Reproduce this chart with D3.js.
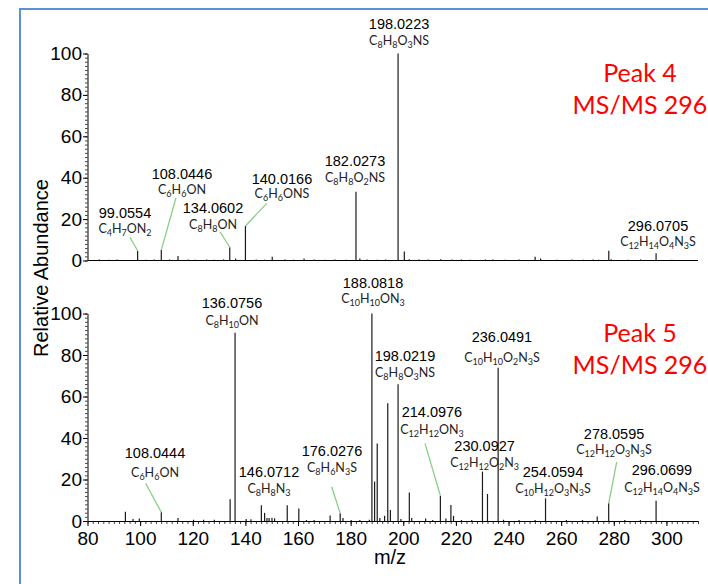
<!DOCTYPE html>
<html><head><meta charset="utf-8">
<script src="https://cdn.jsdelivr.net/npm/d3@7"></script>
<style>body{margin:0;background:#fff}svg{display:block}</style></head>
<body><svg id="c" width="708" height="584"></svg>
<script>
// ---------- DATA ----------
const xTickValues = [80, 100, 120, 140, 160, 180, 200, 220, 240, 260, 280, 300];
const yTickValues = [0, 20, 40, 60, 80, 100];
const xTitle = "m/z";
const yTitle = "Relative Abundance";

// Peak 4 spectrum (m/z, relative abundance)
const peak4Mz = [84.5, 88.1, 91.3, 99.0554, 102.2, 105.4, 108.0446, 111.2, 114.4, 118.3, 121.0, 125.3, 128.1, 131.7, 134.0602, 136.3, 140.0166, 144.1, 147.3, 150.2, 155.0, 158.3, 162.3, 166.1, 170.2, 174.0, 178.3, 182.0273, 183.5, 186.2, 190.1, 193.3, 198.0223, 200.4, 202.3, 206.0, 209.5, 214.2, 218.5, 222.1, 225.4, 231.2, 234.0, 238.6, 244.0, 250.1, 252.2, 258.3, 264.1, 268.4, 272.1, 274.2, 278.1, 279.0, 285.4, 290.2, 296.0705, 302.1];
const peak4Ab = [0.5, 0.4, 0.5, 4.7, 0.4, 0.5, 5.1, 0.5, 2.2, 0.5, 0.4, 0.5, 0.4, 0.5, 6.4, 1.0, 16.7, 0.5, 0.4, 1.8, 0.5, 0.4, 1.0, 0.5, 0.4, 0.5, 0.4, 33.2, 1.0, 0.5, 0.4, 0.5, 100, 4.3, 0.6, 0.5, 0.5, 0.6, 0.5, 0.5, 0.4, 0.5, 0.5, 0.4, 0.5, 1.8, 1.0, 0.4, 0.5, 0.4, 0.5, 0.4, 4.7, 0.6, 0.4, 0.5, 3.5, 0.4];

// Peak 5 spectrum
const peak5Mz = [94.4, 97.3, 99.7, 108.0444, 114.4, 120.3, 124.1, 128.2, 134.2, 136.0756, 140.3, 142.1, 146.0712, 147.3, 148.2, 149.0, 150.1, 151.1, 155.9, 160.3, 163.2, 166.1, 172.2, 176.0276, 177.1, 180.2, 183.5, 187.1, 188.0818, 189.1, 190.1, 191.1, 192.9, 194.1, 195.1, 198.0219, 199.1, 202.3, 203.2, 208.5, 211.2, 214.0976, 216.2, 218.1, 219.1, 222.1, 226.0, 230.0927, 232.0, 236.0491, 238.1, 244.0, 250.1, 254.0594, 262.0, 268.1, 273.7, 278.0595, 284.2, 290.1, 296.0699];
const peak5Ab = [4.5, 1.0, 1.2, 4.2, 1.5, 0.6, 0.6, 0.6, 10.5, 90.7, 1.0, 0.8, 7.6, 3.9, 1.5, 1.4, 1.6, 1.3, 7.6, 6.0, 0.5, 0.5, 2.6, 3.7, 1.5, 0.5, 0.5, 0.6, 100, 19, 37.4, 1.5, 2.5, 56.7, 5.3, 65.9, 1.0, 13.7, 1.5, 1.2, 0.5, 12.2, 1.2, 7.7, 2.5, 0.5, 0.5, 23.8, 13, 73.9, 0.6, 0.5, 0.5, 10.9, 0.5, 0.5, 2.2, 8.5, 0.5, 0.5, 9.8];

// Annotated ions
const peak4AnnotMz = [99.0554, 108.0446, 134.0602, 140.0166, 182.0273, 198.0223, 296.0705];
const peak4AnnotText = ["99.0554", "108.0446", "134.0602", "140.0166", "182.0273", "198.0223", "296.0705"];
const peak4AnnotFormula = ["C4H7ON2", "C6H6ON", "C8H8ON", "C6H6ONS", "C8H8O2NS", "C8H8O3NS", "C12H14O4N3S"];
const peak5AnnotMz = [108.0444, 136.0756, 146.0712, 176.0276, 188.0818, 198.0219, 214.0976, 230.0927, 236.0491, 254.0594, 278.0595, 296.0699];
const peak5AnnotText = ["108.0444", "136.0756", "146.0712", "176.0276", "188.0818", "198.0219", "214.0976", "230.0927", "236.0491", "254.0594", "278.0595", "296.0699"];
const peak5AnnotFormula = ["C6H6ON", "C8H10ON", "C8H8N3", "C8H6N3S", "C10H10ON3", "C8H8O3NS", "C12H12ON3", "C12H12O2N3", "C10H10O2N3S", "C10H12O3N3S", "C12H12O3N3S", "C12H14O4N3S"];

const panelTitles = [["Peak 4", "MS/MS 296"], ["Peak 5", "MS/MS 296"]];

// ---------- LAYOUT (label placement in data units: [m/z, mass-label abundance, formula abundance], leader start [m/z, abundance]) ----------
const peak4LabelPos = [[94.25, 20.6, 13.3], [115.9, 39.3, 32.3], [127.7, 22.8, 15.1], [153.9, 37.0, 30.0], [181.65, 45.6, 38.1], [198.4, 111.8, 104.1], [296.8, 14.4, 7.2]];
const peak4Leader = [[96.15, 11.2], [113.6, 30.2], [130.35, 13.9], [148.1, 27.6], null, null, null];
const peak5LabelPos = [[105.65, 30.2, 21.3], [134.9, 102.5, 94.5], [148.97, 21.3, 13.6], [172.9, 31.2, 23.8], [188.5, 112.3, 104.9], [200.65, 77.0, 69.5], [210.9, 50.3, 41.8], [230.9, 33.6, 26.2], [237.5, 86.4, 76.8], [256.9, 21.3, 13.3], [280.1, 39.4, 32.3], [298.3, 22.2, 14.1]];
const peak5Leader = [[102.1, 18.2], null, null, [172.8, 16.5], null, null, [208.25, 37.4], null, null, null, [281.1, 28.4], null];

// ---------- DRAW ----------
const svg = d3.select("#c");
svg.append("rect").attr("width", 708).attr("height", 584).attr("fill", "#fff");
svg.append("rect").attr("x", 20).attr("y", 9).attr("width", 720).attr("height", 600)
  .attr("fill", "none").attr("stroke", "#5b8fd6").attr("stroke-width", 2);

const axisFont = "'Liberation Sans', Arial, sans-serif";
const formulaFont = "Lato, 'Open Sans', sans-serif";

const x = d3.scaleLinear().domain([80, 312]).range([87.5, 698]);
const yTop = d3.scaleLinear().domain([0, 100]).range([260.5, 53.5]);
const yBot = d3.scaleLinear().domain([0, 100]).range([521, 313.5]);

function formulaTspans(sel, f) {
  const parts = f.match(/[A-Za-z]+|\d+/g);
  let sub = false;
  parts.forEach(p => {
    const isNum = /\d/.test(p);
    const t = sel.append("tspan").text(p);
    if (isNum && !sub) { t.attr("dy", 3).attr("font-size", "9px"); sub = true; }
    else if (!isNum && sub) { t.attr("dy", -3); sub = false; }
    else if (isNum) { t.attr("font-size", "9px"); }
  });
}

function drawPanel(mz, ab, y, aMz, aText, aFormula, lPos, leaders, title, showX) {
  const g = svg.append("g");
  // y axis minor ticks
  const minor = d3.range(0, 101, 2);
  g.append("g").attr("transform", `translate(${x(80)},0)`)
    .call(d3.axisLeft(y).tickValues(minor).tickSize(2.5).tickFormat(""))
    .call(s => s.select(".domain").remove())
    .selectAll("line").attr("stroke", "#444");
  const ya = g.append("g").attr("transform", `translate(${x(80)},0)`)
    .call(d3.axisLeft(y).tickValues(yTickValues).tickSize(4.5).tickPadding(1).tickSizeOuter(0));
  ya.selectAll("text").attr("font-family", axisFont).attr("font-size", "19px").attr("fill", "#000");
  ya.selectAll("line,path").attr("stroke", "#000");

  // x axis
  if (showX) {
    g.append("g").attr("transform", `translate(0,${y(0)})`)
      .call(d3.axisBottom(x).tickValues(d3.range(80, 313, 2)).tickSize(3).tickFormat("").tickSizeOuter(0))
      .call(s => s.select(".domain").remove())
      .selectAll("line").attr("stroke", "#444");
    const xa = g.append("g").attr("transform", `translate(0,${y(0)})`)
      .call(d3.axisBottom(x).tickValues(xTickValues).tickSize(5).tickPadding(6).tickSizeOuter(0));
    xa.selectAll("text").attr("font-family", axisFont).attr("font-size", "19px").attr("fill", "#000");
    xa.selectAll("line,path").attr("stroke", "#000");
  } else {
    g.append("line").attr("x1", x(80)).attr("x2", x(312)).attr("y1", y(0)).attr("y2", y(0))
      .attr("stroke", "#000");
  }

  // peaks
  g.append("g").selectAll("line").data(mz).join("line")
    .attr("x1", d => x(d)).attr("x2", d => x(d))
    .attr("y1", y(0)).attr("y2", (d, i) => y(ab[i]))
    .attr("stroke", "#1a1a1a").attr("stroke-width", 1.2);

  // leaders
  aMz.forEach((m, i) => {
    const L = leaders[i];
    if (!L) return;
    const h = ab[mz.indexOf(m)];
    g.append("line").attr("x1", x(L[0])).attr("y1", y(L[1]))
      .attr("x2", x(m)).attr("y2", y(h))
      .attr("stroke", "#86cf86").attr("stroke-width", 1.3);
  });

  // labels
  aMz.forEach((m, i) => {
    const p = lPos[i];
    g.append("text").attr("x", x(p[0])).attr("y", y(p[1]))
      .attr("text-anchor", "middle").attr("font-family", axisFont)
      .attr("font-size", "14.5px").attr("fill", "#000").text(aText[i]);
    const ft = g.append("text").attr("x", x(p[0])).attr("y", y(p[2]))
      .attr("text-anchor", "middle").attr("font-family", formulaFont)
      .attr("font-size", "12.5px").attr("fill", "#222");
    formulaTspans(ft, aFormula[i]);
  });

  // title
  g.append("text").attr("x", 640).attr("y", y(100) + 28).attr("text-anchor", "middle")
    .attr("font-family", formulaFont).attr("font-size", "25px").attr("fill", "#ff0000").text(title[0]);
  g.append("text").attr("x", 640).attr("y", y(100) + 60).attr("text-anchor", "middle")
    .attr("font-family", formulaFont).attr("font-size", "25px").attr("fill", "#ff0000").text(title[1]);
}

drawPanel(peak4Mz, peak4Ab, yTop, peak4AnnotMz, peak4AnnotText, peak4AnnotFormula, peak4LabelPos, peak4Leader, panelTitles[0], false);
drawPanel(peak5Mz, peak5Ab, yBot, peak5AnnotMz, peak5AnnotText, peak5AnnotFormula, peak5LabelPos, peak5Leader, panelTitles[1], true);

// axis titles
svg.append("text").attr("x", 390).attr("y", 564).attr("text-anchor", "middle")
  .attr("font-family", axisFont).attr("font-size", "20px").attr("fill", "#000").text(xTitle);
svg.append("text").attr("transform", "translate(48,268) rotate(-90)").attr("text-anchor", "middle")
  .attr("font-family", axisFont).attr("font-size", "20px").attr("fill", "#000").text(yTitle);
</script></body></html>
